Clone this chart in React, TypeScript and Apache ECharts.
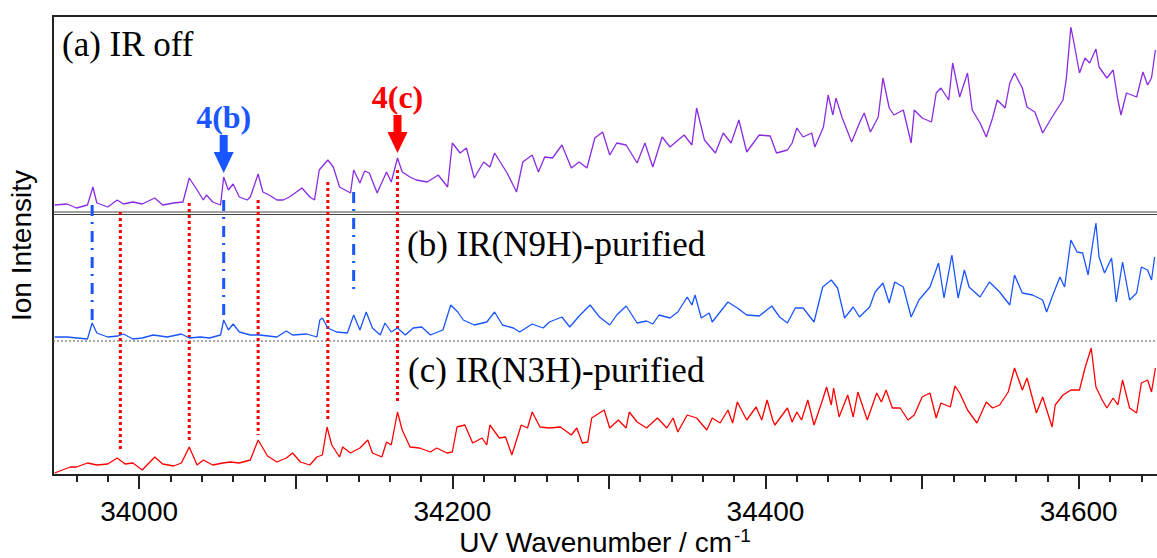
import React, { useEffect, useRef } from "react";
import * as echarts from "echarts";

const X_MIN = 33945;
const X_MAX = 34650;
const Y_MAX = 459;

// vertical offsets of the stacked traces (arbitrary intensity units)
const OFFSET_A = 265;
const OFFSET_B = 134;
const OFFSET_C = 0;

const labelValues = [34000, 34200, 34400, 34600];
const majorTicks = [34000, 34100, 34200, 34300, 34400, 34500, 34600];
const minorTicks = Array.from({ length: 35 }, (_, i) => 33960 + i * 20);

// (a) IR off
const traceA: [number, number][] = [
  [33946, 5], [33954, 6], [33960, 2], [33967, 5], [33970.5, 23], [33973, 7], [33980, 3], [33986, 10],
  [33990, 6], [33996, 8], [34002, 6], [34010, 12], [34015, 5], [34022, 7], [34028, 8], [34032, 32],
  [34037, 20], [34041, 10], [34043, 15], [34047, 8], [34052, 5], [34054, 33], [34057, 20], [34060, 26],
  [34064, 13], [34069, 10], [34071, 13], [34076, 36], [34079, 18], [34083, 15], [34088, 10], [34092, 10],
  [34096, 13], [34104, 22], [34109, 13], [34112, 10], [34115, 40], [34120.5, 50], [34124, 43], [34128, 23],
  [34135, 17], [34137, 40], [34141, 27], [34144, 39], [34147, 37], [34152, 17], [34158, 38], [34161, 28],
  [34165, 52], [34168, 38], [34173, 33], [34177, 30], [34184, 28], [34191, 35], [34197, 23], [34200, 67],
  [34205, 57], [34209, 62], [34214, 32], [34220, 48], [34224, 43], [34227, 57], [34235, 37], [34241, 18],
  [34245, 48], [34251, 55], [34255, 38], [34259, 53], [34264, 52], [34270, 65], [34276, 42], [34281, 48],
  [34286, 42], [34291, 72], [34296, 78], [34300.5, 55], [34305, 67], [34311, 65], [34318, 47], [34323, 67],
  [34328, 43], [34334, 73], [34339, 63], [34348, 75], [34353, 65], [34356, 102], [34361, 70], [34368, 57],
  [34373, 77], [34378, 67], [34383, 90], [34388, 58], [34396, 75], [34403, 74], [34407, 57], [34414, 60],
  [34417, 67], [34420, 82], [34424, 73], [34429.5, 77], [34431.5, 63], [34437, 83], [34440, 115], [34443, 95],
  [34445, 112], [34449, 92], [34455, 68], [34460, 87], [34463, 97], [34467, 78], [34472, 93], [34475, 132],
  [34479, 102], [34482, 95], [34488, 100], [34493, 67], [34495, 100], [34500, 92], [34506, 88], [34509, 117],
  [34512, 122], [34517, 110], [34519.5, 147], [34524, 113], [34529, 137], [34532, 100], [34537, 87], [34541, 73],
  [34545, 92], [34548, 110], [34553, 102], [34556, 127], [34559, 137], [34564, 122], [34567, 103], [34572, 98],
  [34577, 77], [34583, 93], [34590, 110], [34592, 130], [34595, 183], [34597, 167], [34600.5, 137], [34604, 152],
  [34607, 147], [34611, 161], [34613, 143], [34618, 132], [34622, 140], [34625, 110], [34627, 95], [34630.5, 117],
  [34637, 113], [34641, 138], [34644, 125], [34646.5, 132], [34649, 160],
];

// (b) IR(N9H)-purified
const traceB: [number, number][] = [
  [33946, 4], [33954, 4], [33967, 2], [33970, 18], [33973, 8], [33980, 4], [33986.5, 5], [33990, 7],
  [33996, 2], [34002, 3], [34009, 6], [34018, 4], [34027, 7], [34032, 3], [34039, 4], [34045, 3],
  [34052, 6], [34054, 21], [34057, 11], [34060, 17], [34064, 9], [34071, 6], [34077, 6], [34088, 4],
  [34094, 10], [34098, 6], [34107, 7], [34113.5, 4], [34115.4, 21], [34117, 23], [34120.5, 13], [34126, 9],
  [34133, 8], [34137, 26], [34141, 11], [34145, 29], [34149, 13], [34154, 6], [34157, 18], [34161, 9],
  [34165, 13], [34170, 6], [34175, 13], [34180.5, 14], [34186, 6], [34194, 11], [34199, 36], [34203.5, 29],
  [34207, 21], [34214, 16], [34222, 19], [34227, 29], [34232, 16], [34239, 13], [34243, 9], [34251, 17],
  [34258, 13], [34262, 19], [34270, 24], [34275, 14], [34281, 25], [34288, 36], [34294, 24], [34300.5, 16],
  [34305, 26], [34311, 35], [34318, 18], [34324, 20], [34328, 17], [34332, 26], [34339, 23], [34344, 29],
  [34350, 44], [34353, 36], [34355, 46], [34359, 23], [34364, 28], [34366, 19], [34376, 39], [34382, 33],
  [34388, 26], [34396, 25], [34404, 35], [34409, 24], [34414, 18], [34419, 33], [34424, 33], [34431, 19],
  [34436.5, 54], [34442, 61], [34446, 53], [34450.5, 23], [34456, 34], [34460, 24], [34466.5, 34], [34470, 49],
  [34475, 58], [34479, 38], [34482.5, 59], [34488, 54], [34493, 24], [34498, 41], [34505, 54], [34510.5, 78],
  [34514, 43], [34519, 86], [34523, 43], [34527, 71], [34530, 54], [34537, 44], [34543, 59], [34549.5, 49],
  [34556, 36], [34559, 66], [34564, 48], [34570.5, 46], [34577, 41], [34579.5, 29], [34583, 44], [34588, 64],
  [34591, 54], [34595, 101], [34599, 89], [34602.5, 88], [34606, 66], [34609, 98], [34611, 118], [34613, 84],
  [34616.5, 68], [34621, 83], [34624, 39], [34628, 79], [34632.5, 41], [34637, 48], [34640, 74], [34644, 71],
  [34646.5, 61], [34648.5, 84],
];

// (c) IR(N3H)-purified
const traceC: [number, number][] = [
  [33946, 2], [33956, 8], [33960, 8], [33967, 12], [33973, 10], [33980, 11], [33986, 17], [33991, 11],
  [33996, 12], [34002, 5], [34010, 18], [34015, 11], [34022, 9], [34027, 12], [34032, 28], [34037, 10],
  [34041, 15], [34047, 10], [34053.5, 12], [34058, 13], [34064, 12], [34071, 15], [34076, 35], [34082, 19],
  [34088, 13], [34094, 17], [34098, 22], [34103, 13], [34109, 10], [34113.5, 18], [34117, 20], [34120, 48],
  [34123, 30], [34128, 18], [34130, 28], [34135, 22], [34141, 27], [34146, 35], [34149, 22], [34155, 18],
  [34158, 33], [34161, 30], [34165, 63], [34168, 45], [34173, 28], [34179, 27], [34186, 23], [34190, 27],
  [34196.5, 22], [34200, 23], [34203, 48], [34208, 50], [34213, 32], [34219, 37], [34222, 30], [34224, 50],
  [34230, 37], [34234, 38], [34238, 20], [34244, 50], [34248, 47], [34251, 63], [34256, 48], [34262, 47],
  [34269, 48], [34276, 40], [34279.5, 47], [34283, 32], [34286.5, 33], [34289, 57], [34297, 65], [34300.5, 47],
  [34306, 55], [34311, 47], [34313, 63], [34318, 53], [34324, 47], [34331, 57], [34337, 47], [34341, 57],
  [34344, 43], [34350, 60], [34356, 57], [34362.5, 45], [34366, 57], [34371, 52], [34376, 65], [34379, 52],
  [34382, 73], [34388, 55], [34394, 68], [34397.6, 55], [34401, 75], [34404.6, 55], [34406, 50], [34414, 67],
  [34417, 53], [34420, 63], [34423, 55], [34427, 75], [34431, 50], [34436, 73], [34439, 88], [34442, 70],
  [34443.5, 87], [34447, 58], [34452.5, 80], [34456, 58], [34459, 83], [34465, 55], [34471, 82], [34474, 73],
  [34477, 85], [34481, 67], [34486, 67], [34491, 55], [34495, 60], [34500, 78], [34505, 82], [34509, 57],
  [34512, 72], [34518, 68], [34521, 89], [34524, 82], [34529, 65], [34535, 52], [34541, 73], [34545, 67],
  [34549.5, 70], [34555, 83], [34559, 107], [34564, 85], [34567, 97], [34573, 62], [34577, 78], [34583, 48],
  [34585, 70], [34590, 80], [34595, 85], [34600.5, 85], [34604, 107], [34608, 127], [34611, 88], [34615, 75],
  [34618, 67], [34622, 77], [34625, 70], [34628, 95], [34632.5, 67], [34637, 62], [34640, 92], [34644, 95],
  [34646.5, 83], [34649, 107],
];

// vertical guide lines (wavenumber, top value, bottom value)
const redMarkerWave = [33988, 34032, 34076, 34120.5, 34165];
const redMarkerTop = [263, 272, 275, 293, 305];
const redMarkerBottom = [25, 33, 40, 55, 73];
const blueMarkerWave = [33970, 34054, 34137];
const blueMarkerTop = [270, 275, 283];
const blueMarkerBottom = [153, 157, 182];

// panel separator (double line) and zero line of trace (b)
const separatorValues = [263, 260.5];
const zeroLineB = 134;

// arrow tips
const arrowB = { wave: 34054, value: 302, text: "4(b)", color: "#1a56ff" };
const arrowC = { wave: 34165, value: 322, text: "4(c)", color: "#ff0000" };

const PURPLE = "#8b2be2";
const BLUE = "#1a56ff";
const RED = "#ff0000";

const shift = (d: [number, number][], off: number) => d.map(([x, y]) => [x, y + off]);

export default function App() {
  const ref = useRef<HTMLDivElement>(null);

  useEffect(() => {
    document.body.style.margin = "0";
    if (!ref.current) return;
    const chart = echarts.init(ref.current, null, { renderer: "svg" });

    const series: any[] = [];
    separatorValues.forEach((v) => {
      series.push({
        type: "line", symbol: "none", silent: true, z: 1,
        data: [[X_MIN, v], [X_MAX, v]],
        lineStyle: { color: "#444", width: 1 },
      });
    });
    series.push({
      type: "line", symbol: "none", silent: true, z: 1,
      data: [[X_MIN, zeroLineB], [X_MAX, zeroLineB]],
      lineStyle: { color: "#555", width: 1, type: [2, 2] },
    });
    redMarkerWave.forEach((w, i) => {
      series.push({
        type: "line", symbol: "none", silent: true, z: 2,
        data: [[w, redMarkerTop[i]], [w, redMarkerBottom[i]]],
        lineStyle: { color: RED, width: 3, type: [3, 3] },
      });
    });
    blueMarkerWave.forEach((w, i) => {
      series.push({
        type: "line", symbol: "none", silent: true, z: 2,
        data: [[w, blueMarkerTop[i]], [w, blueMarkerBottom[i]]],
        lineStyle: { color: BLUE, width: 3, type: [11, 6, 2, 7] },
      });
    });
    series.push(
      { type: "line", symbol: "none", z: 3, data: shift(traceA, OFFSET_A), lineStyle: { color: PURPLE, width: 1.3 } },
      { type: "line", symbol: "none", z: 3, data: shift(traceB, OFFSET_B), lineStyle: { color: BLUE, width: 1.3 } },
      { type: "line", symbol: "none", z: 3, data: shift(traceC, OFFSET_C), lineStyle: { color: RED, width: 1.3 } },
    );

    const serif = '"Liberation Serif", "Times New Roman", serif';
    const sans = '"Liberation Sans", Arial, sans-serif';

    chart.setOption({
      animation: false,
      grid: { left: 53, right: 0, top: 16, bottom: 83, outerBoundsMode: "none", containLabel: false },
      xAxis: [
        {
          type: "value", min: X_MIN, max: X_MAX, position: "bottom",
          axisLine: { show: true, lineStyle: { color: "#222", width: 2 } },
          axisTick: { show: true, customValues: minorTicks, length: 7, lineStyle: { color: "#222", width: 2 } },
          axisLabel: { show: false },
          splitLine: { show: false },
          name: "{a|UV Wavenumber / cm}{b|-1}",
          nameLocation: "middle",
          nameGap: 51,
          nameTextStyle: {
            rich: {
              a: { fontSize: 28, fontFamily: sans, color: "#000", lineHeight: 30, verticalAlign: "bottom" },
              b: { fontSize: 19, fontFamily: sans, color: "#000", lineHeight: 30, verticalAlign: "top", padding: [0, 0, 0, 2] },
            },
          },
        },
        {
          type: "value", min: X_MIN, max: X_MAX, position: "bottom",
          axisLine: { show: false },
          axisTick: { show: true, customValues: majorTicks, length: 14, lineStyle: { color: "#222", width: 2 } },
          axisLabel: {
            show: true, customValues: labelValues, fontSize: 28, fontFamily: sans, color: "#000", margin: 22,
            formatter: (v: number) => String(v),
          },
          splitLine: { show: false },
        },
        {
          type: "value", min: X_MIN, max: X_MAX, position: "top",
          axisLine: { show: true, lineStyle: { color: "#222", width: 2 } },
          axisTick: { show: false },
          axisLabel: { show: false },
          splitLine: { show: false },
        },
      ],
      yAxis: {
        type: "value", min: 0, max: Y_MAX,
        axisLine: { show: true, lineStyle: { color: "#222", width: 2 } },
        axisTick: { show: false },
        axisLabel: { show: false },
        splitLine: { show: false },
        name: "Ion Intensity",
        nameLocation: "middle",
        nameGap: 18,
        nameTextStyle: { fontSize: 28, fontFamily: sans, color: "#000" },
      },
      series,
      graphic: [
        { id: "la", type: "text", x: 62, y: 44, style: { text: "(a) IR off", font: `35px ${serif}`, fill: "#000", verticalAlign: "middle" } },
        { id: "lb", type: "text", x: 407, y: 244, style: { text: "(b) IR(N9H)-purified", font: `35px ${serif}`, fill: "#000", verticalAlign: "middle" } },
        { id: "lc", type: "text", x: 408, y: 370, style: { text: "(c) IR(N3H)-purified", font: `35px ${serif}`, fill: "#000", verticalAlign: "middle" } },
      ],
    });

    const arrowPts = [[-4, -38], [4, -38], [4, -21], [10, -21], [0, 0], [-10, -21], [-4, -21]];
    const els: any[] = [];
    [arrowB, arrowC].forEach((a, i) => {
      const p = chart.convertToPixel({ xAxisIndex: 0, yAxisIndex: 0 }, [a.wave, a.value]) as number[];
      els.push({ id: "arr" + i, type: "polygon", x: p[0], y: p[1], shape: { points: arrowPts }, style: { fill: a.color }, z: 10 });
      els.push({
        id: "arrt" + i, type: "text", x: p[0], y: p[1] - 56, z: 10,
        style: { text: a.text, font: `bold 32px ${serif}`, fill: a.color, align: "center", verticalAlign: "middle" },
      });
    });
    chart.setOption({ graphic: els });

    return () => chart.dispose();
  }, []);

  return <div ref={ref} style={{ width: 1157, height: 558 }} />;
}
